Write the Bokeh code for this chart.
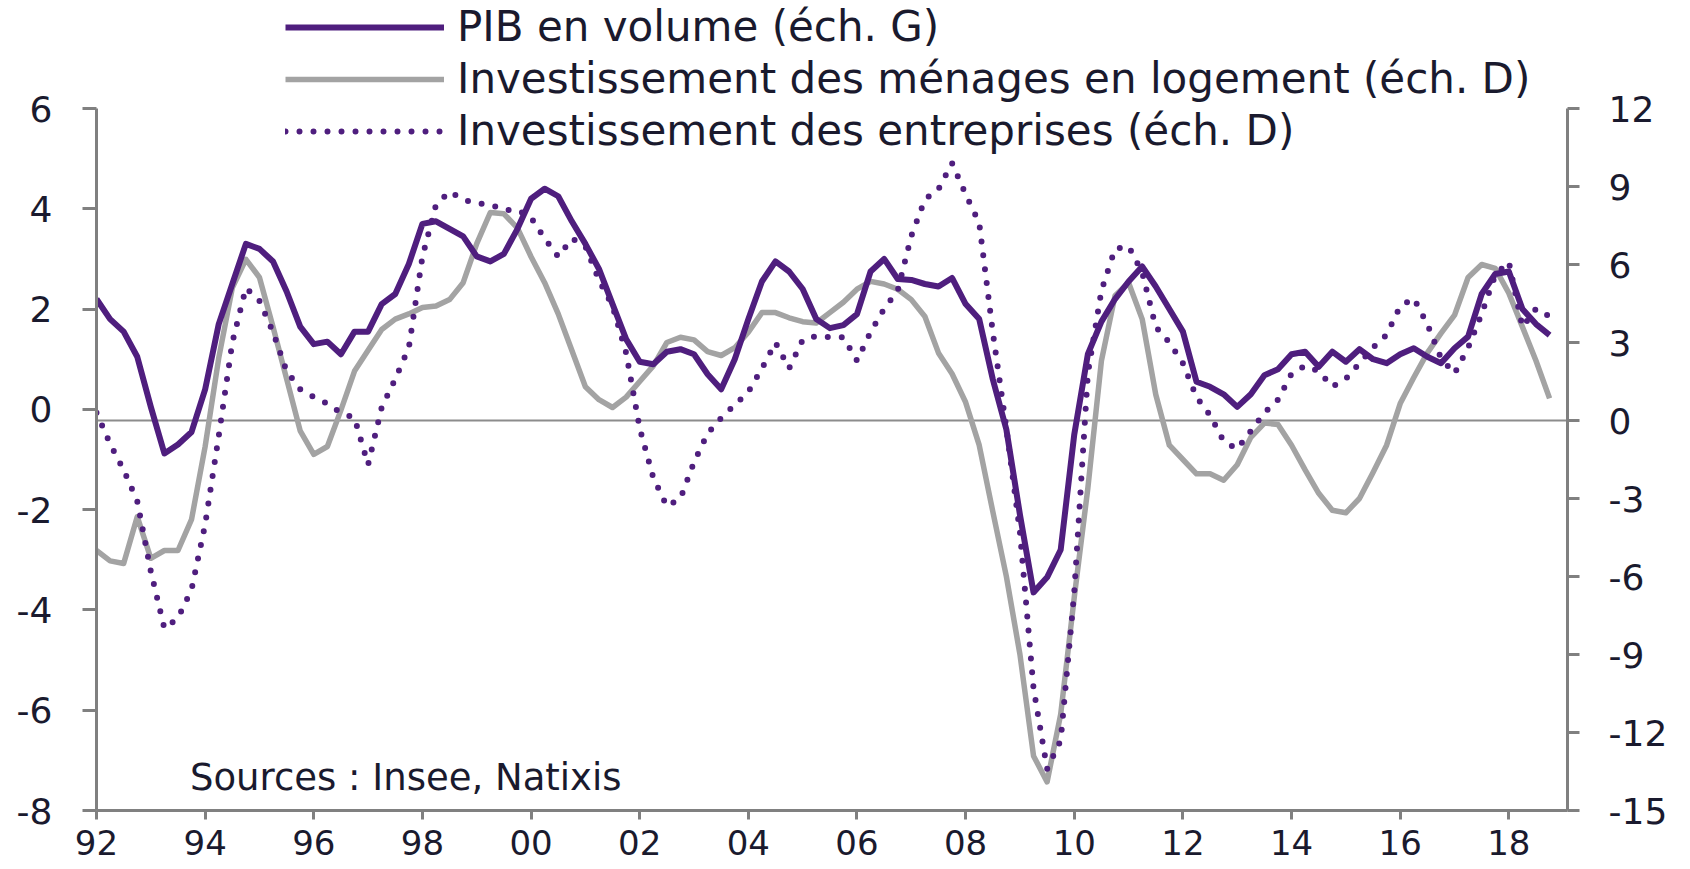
from bokeh.plotting import figure
from bokeh.models import (Range1d, LinearAxis, FixedTicker, Span, Legend,
                          LegendItem, Label, ColumnDataSource)
from bokeh.embed import file_html
from bokeh.resources import INLINE

# Quarterly observations, 1992 Q1 .. 2018 Q4
quarters = [f"{y}T{q}" for y in range(1992, 2019) for q in range(1, 5)]
x_dates = [int(s[:4]) + (int(s[-1]) - 1) / 4 for s in quarters]

# PIB en volume, glissement annuel (%) - left scale
pib = [2.2, 1.8, 1.55, 1.05, 0.05, -0.88, -0.7, -0.45,
       0.4, 1.7, 2.5, 3.3, 3.2, 2.95, 2.35, 1.65,
       1.3, 1.35, 1.1, 1.55, 1.55, 2.1, 2.3, 2.9,
       3.7, 3.75, 3.6, 3.45, 3.05, 2.95, 3.1, 3.6,
       4.2, 4.4, 4.25, 3.75, 3.3, 2.8, 2.1, 1.4,
       0.95, 0.9, 1.15, 1.2, 1.1, 0.7, 0.4, 1.0,
       1.8, 2.55, 2.95, 2.75, 2.4, 1.8, 1.62, 1.68,
       1.9, 2.75, 3.0, 2.6, 2.58, 2.5, 2.45, 2.62,
       2.1, 1.8, 0.6, -0.4, -2.1, -3.65, -3.35, -2.8,
       -0.5, 1.1, 1.75, 2.2, 2.55, 2.85, 2.45, 2.0,
       1.55, 0.55, 0.45, 0.3, 0.05, 0.3, 0.68, 0.8,
       1.1, 1.15, 0.85, 1.15, 0.95, 1.2, 1.0, 0.92,
       1.1, 1.22, 1.05, 0.92, 1.22, 1.45, 2.3, 2.7,
       2.75, 2.0, 1.7, 1.48]

# Investissement des ménages en logement (%) - right scale
logement = [-5.0, -5.4, -5.5, -3.7, -5.3, -5.0, -5.0, -3.8,
            -1.0, 2.4, 5.1, 6.2, 5.5, 3.6, 1.6, -0.4,
            -1.3, -1.0, 0.4, 1.9, 2.7, 3.5, 3.9, 4.1,
            4.35, 4.4, 4.65, 5.3, 6.8, 8.0, 7.95, 7.4,
            6.3, 5.3, 4.1, 2.7, 1.3, 0.8, 0.5, 0.9,
            1.5, 2.1, 3.0, 3.2, 3.1, 2.65, 2.5, 2.8,
            3.4, 4.15, 4.15, 3.95, 3.8, 3.75, 4.15, 4.55,
            5.05, 5.35, 5.25, 5.05, 4.65, 4.0, 2.6, 1.8,
            0.7, -0.95, -3.5, -6.0, -9.0, -12.9, -13.9, -11.3,
            -6.8, -2.6, 2.3, 4.8, 5.3, 3.9, 1.0, -0.95,
            -1.5, -2.05, -2.05, -2.3, -1.7, -0.65, -0.1, -0.15,
            -0.95, -1.9, -2.8, -3.45, -3.55, -3.0, -2.0, -0.95,
            0.65, 1.65, 2.6, 3.35, 4.05, 5.5, 6.0, 5.85,
            4.9, 3.6, 2.3, 0.85]

# Investissement des entreprises (%) - right scale
entreprises = [0.3, -0.9, -1.9, -3.1, -5.8, -8.0, -7.6, -6.5,
               -4.0, -0.6, 3.0, 5.1, 4.6, 3.4, 1.9, 1.2,
               0.9, 0.65, 0.3, 0.1, -1.7, 0.5, 1.6, 2.8,
               6.3, 8.3, 8.8, 8.5, 8.35, 8.3, 8.1, 8.1,
               7.8, 7.0, 6.3, 7.0, 6.7, 5.4, 4.4, 2.6,
               -0.3, -2.2, -3.3, -3.0, -1.6, -0.5, 0.1, 0.6,
               1.1, 2.0, 3.0, 2.0, 3.1, 3.25, 3.2, 3.2,
               2.3, 3.4, 4.3, 5.0, 7.1, 8.5, 8.9, 9.9,
               8.7, 7.6, 3.4, -0.3, -4.3, -10.3, -13.4, -12.3,
               -6.6, 1.8, 5.0, 6.6, 6.7, 5.7, 3.6, 3.0,
               2.2, 0.9, 0.2, -0.8, -1.1, -0.4, 0.3, 0.8,
               1.8, 2.1, 1.9, 1.3, 1.6, 2.2, 2.8, 3.3,
               4.4, 4.7, 3.7, 2.4, 1.8, 2.8, 4.1, 5.6,
               6.1, 3.6, 4.3, 4.0]

year_ticks = list(range(1992, 2019, 2))
year_labels = [str(y)[-2:] for y in year_ticks]
left_ticks = [-8, -6, -4, -2, 0, 2, 4, 6]
right_ticks = [-15, -12, -9, -6, -3, 0, 3, 6, 9, 12]

legend_labels = ["PIB en volume (éch. G)",
                 "Investissement des ménages en logement (éch. D)",
                 "Investissement des entreprises (éch. D)"]
source_text = "Sources : Insee, Natixis"

PURPLE = "#4F1E7E"
GREY = "#A3A3A3"
AXIS = "#808080"
TEXT = "#1a1a2e"
FONT = "DejaVu Sans"

# page geometry (px). The frame reaches the top of the canvas so that the
# legend, which sits above the axes' top tick, is not clipped.
W, H = 1690, 869
BORDER_L, BORDER_R, BORDER_B = 96, 123, 59
AX_TOP = 108                      # y of the top ticks (6 / 12)
AX_BOTTOM = H - BORDER_B          # y of the bottom ticks (-8 / -15)
span_px = AX_BOTTOM - AX_TOP
l_lo, l_hi = left_ticks[0], left_ticks[-1]
r_lo, r_hi = right_ticks[0], right_ticks[-1]
l_top = l_hi + AX_TOP * (l_hi - l_lo) / span_px
r_top = r_hi + AX_TOP * (r_hi - r_lo) / span_px

src = ColumnDataSource(dict(x=x_dates, pib=pib, log=logement, ent=entreprises))

p = figure(width=W, height=H, output_backend="svg", toolbar_location=None,
           x_range=Range1d(1992, 2019.08), y_range=Range1d(l_lo, l_top),
           min_border_left=BORDER_L, min_border_right=BORDER_R,
           min_border_top=0, min_border_bottom=BORDER_B,
           outline_line_color=None,
           background_fill_color="white", border_fill_color="white")
p.extra_y_ranges = {"right": Range1d(r_lo, r_top)}
p.xgrid.visible = False
p.ygrid.visible = False
p.yaxis[0].bounds = (l_lo, l_hi)

right_axis = LinearAxis(y_range_name="right", bounds=(r_lo, r_hi))
p.add_layout(right_axis, "right")

for ax in [p.xaxis[0], p.yaxis[0], right_axis]:
    ax.axis_line_color = AXIS
    ax.axis_line_width = 3
    ax.major_tick_line_color = AXIS
    ax.major_tick_line_width = 3
    ax.major_tick_in = 0
    ax.minor_tick_in = 0
    ax.minor_tick_out = 0
    ax.major_label_text_font = FONT
    ax.major_label_text_color = TEXT

xa = p.xaxis[0]
xa.ticker = FixedTicker(ticks=year_ticks)
xa.major_label_overrides = {t: l for t, l in zip(year_ticks, year_labels)}
xa.major_tick_out = 9
xa.major_label_standoff = 10
xa.major_label_text_font_size = "34px"

ya = p.yaxis[0]
ya.ticker = FixedTicker(ticks=left_ticks)
ya.major_label_overrides = {t: str(t) for t in left_ticks}
ya.major_tick_out = 14
ya.major_label_standoff = 30
ya.major_label_text_font_size = "36px"

right_axis.ticker = FixedTicker(ticks=right_ticks)
right_axis.major_label_overrides = {t: str(t) for t in right_ticks}
right_axis.major_tick_out = 12
right_axis.major_label_standoff = 29
right_axis.major_label_text_font_size = "36px"

zero = Span(location=0, dimension="width", y_range_name="right",
            line_color="#8c8c8c", line_width=2, level="underlay")
p.add_layout(zero)

r_log = p.line("x", "log", source=src, y_range_name="right",
               line_color=GREY, line_width=5.5, line_join="round")
r_pib = p.line("x", "pib", source=src, line_color=PURPLE, line_width=6,
               line_join="round")
r_ent = p.line("x", "ent", source=src, y_range_name="right",
               line_color=PURPLE, line_width=6, line_dash="0 14",
               line_cap="round")

legend = Legend(items=[LegendItem(label=legend_labels[0], renderers=[r_pib]),
                       LegendItem(label=legend_labels[1], renderers=[r_log]),
                       LegendItem(label=legend_labels[2], renderers=[r_ent])],
                location=(189, 655), orientation="vertical",
                background_fill_alpha=0, border_line_color=None,
                padding=0, margin=0, spacing=3,
                glyph_width=159, glyph_height=40, label_height=40,
                label_standoff=13, label_text_font=FONT,
                label_text_font_size="42px", label_text_color=TEXT)
p.add_layout(legend)

p.add_layout(Label(x=1993.72, y=-7.34, text=source_text, text_font=FONT,
                   text_font_size="37px", text_color=TEXT,
                   text_baseline="alphabetic"))

open("out.html", "w").write(file_html(p, INLINE))
